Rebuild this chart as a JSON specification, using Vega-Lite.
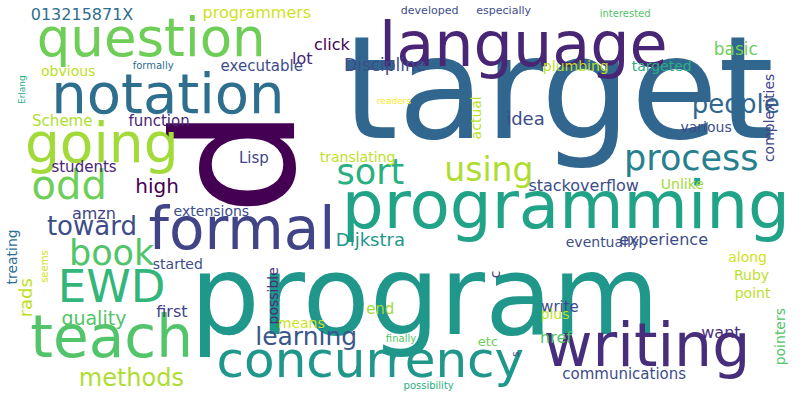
{
  "$schema": "https://vega.github.io/schema/vega-lite/v6.json",
  "width": 800,
  "height": 400,
  "autosize": {"type": "fit", "contains": "padding"},
  "background": "white",
  "view": {"stroke": null},
  "data": {
    "values": [
      {"word": "program", "x": 425, "y": 303, "size": 110, "angle": 0, "shade": 0.53},
      {"word": "target", "x": 560, "y": 92, "size": 142, "angle": 0, "shade": 0.33},
      {"word": "p", "x": 250, "y": 160, "size": 170, "angle": 90, "shade": 0.0},
      {"word": "language", "x": 525, "y": 42, "size": 62, "angle": 0, "shade": 0.1},
      {"word": "question", "x": 148, "y": 35, "size": 53, "angle": 0, "shade": 0.78},
      {"word": "notation", "x": 165, "y": 93, "size": 56, "angle": 0, "shade": 0.36},
      {"word": "going", "x": 98, "y": 143, "size": 55, "angle": 0, "shade": 0.86},
      {"word": "programming", "x": 568, "y": 208, "size": 66, "angle": 0, "shade": 0.58},
      {"word": "formal", "x": 240, "y": 232, "size": 58, "angle": 0, "shade": 0.2},
      {"word": "process", "x": 695, "y": 157, "size": 35, "angle": 0, "shade": 0.43},
      {"word": "people", "x": 740, "y": 102, "size": 26, "angle": 0, "shade": 0.33},
      {"word": "sort", "x": 370, "y": 172, "size": 35, "angle": 0, "shade": 0.63},
      {"word": "using", "x": 490, "y": 170, "size": 33, "angle": 0, "shade": 0.88},
      {"word": "odd", "x": 65, "y": 186, "size": 40, "angle": 0, "shade": 0.78},
      {"word": "high", "x": 154, "y": 186, "size": 20, "angle": 0, "shade": 0.0},
      {"word": "toward", "x": 88, "y": 227, "size": 26, "angle": 0, "shade": 0.23},
      {"word": "book", "x": 108, "y": 255, "size": 35, "angle": 0, "shade": 0.73},
      {"word": "EWD", "x": 108, "y": 290, "size": 45, "angle": 0, "shade": 0.66},
      {"word": "teach", "x": 108, "y": 343, "size": 58, "angle": 0, "shade": 0.73},
      {"word": "writing", "x": 650, "y": 352, "size": 60, "angle": 0, "shade": 0.13},
      {"word": "concurrency", "x": 370, "y": 366, "size": 50, "angle": 0, "shade": 0.53},
      {"word": "learning", "x": 305, "y": 340, "size": 25, "angle": 0, "shade": 0.27},
      {"word": "methods", "x": 128, "y": 384, "size": 24, "angle": 0, "shade": 0.88},
      {"word": "quality", "x": 90, "y": 322, "size": 19, "angle": 0, "shade": 0.73},
      {"word": "rads", "x": 22, "y": 300, "size": 18, "angle": 270, "shade": 0.9},
      {"word": "treating", "x": 8, "y": 258, "size": 14, "angle": 270, "shade": 0.36},
      {"word": "seems", "x": 40, "y": 268, "size": 10, "angle": 270, "shade": 0.93},
      {"word": "amzn", "x": 90, "y": 214, "size": 16, "angle": 0, "shade": 0.2},
      {"word": "students", "x": 80, "y": 166, "size": 15, "angle": 0, "shade": 0.1},
      {"word": "Scheme", "x": 58, "y": 118, "size": 15, "angle": 0, "shade": 0.88},
      {"word": "function", "x": 156, "y": 118, "size": 15, "angle": 0, "shade": 0.1},
      {"word": "obvious", "x": 64, "y": 68, "size": 14, "angle": 0, "shade": 0.9},
      {"word": "formally", "x": 150, "y": 62, "size": 10, "angle": 0, "shade": 0.36},
      {"word": "Erlang", "x": 17, "y": 86, "size": 9, "angle": 270, "shade": 0.63},
      {"word": "013215871X", "x": 78, "y": 9, "size": 16, "angle": 0, "shade": 0.36},
      {"word": "programmers", "x": 255, "y": 7, "size": 16, "angle": 0, "shade": 0.93},
      {"word": "lot", "x": 301, "y": 55, "size": 16, "angle": 0, "shade": 0.1},
      {"word": "click", "x": 331, "y": 40, "size": 16, "angle": 0, "shade": 0.0},
      {"word": "executable", "x": 260, "y": 62, "size": 15, "angle": 0, "shade": 0.23},
      {"word": "Discipline", "x": 385, "y": 62, "size": 17, "angle": 0, "shade": 0.23},
      {"word": "plumbing", "x": 578, "y": 63, "size": 14, "angle": 0, "shade": 0.9},
      {"word": "targeted", "x": 665, "y": 63, "size": 14, "angle": 0, "shade": 0.63},
      {"word": "basic", "x": 740, "y": 45, "size": 17, "angle": 0, "shade": 0.78},
      {"word": "developed", "x": 430, "y": 5, "size": 11, "angle": 0, "shade": 0.23},
      {"word": "especially", "x": 505, "y": 5, "size": 11, "angle": 0, "shade": 0.23},
      {"word": "interested", "x": 628, "y": 8, "size": 10, "angle": 0, "shade": 0.73},
      {"word": "readers", "x": 394, "y": 98, "size": 9, "angle": 0, "shade": 1.0},
      {"word": "actual", "x": 478, "y": 115, "size": 14, "angle": 270, "shade": 0.9},
      {"word": "idea", "x": 527, "y": 117, "size": 18, "angle": 0, "shade": 0.23},
      {"word": "various", "x": 710, "y": 125, "size": 14, "angle": 0, "shade": 0.23},
      {"word": "complexities", "x": 775, "y": 115, "size": 14, "angle": 270, "shade": 0.2},
      {"word": "Lisp", "x": 252, "y": 156, "size": 15, "angle": 0, "shade": 0.2},
      {"word": "translating", "x": 357, "y": 156, "size": 14, "angle": 0, "shade": 0.9},
      {"word": "stackoverflow", "x": 586, "y": 185, "size": 16, "angle": 0, "shade": 0.23},
      {"word": "Unlike", "x": 686, "y": 184, "size": 14, "angle": 0, "shade": 0.86},
      {"word": "extensions", "x": 209, "y": 212, "size": 14, "angle": 0, "shade": 0.23},
      {"word": "started", "x": 175, "y": 266, "size": 14, "angle": 0, "shade": 0.23},
      {"word": "Dijkstra", "x": 370, "y": 242, "size": 18, "angle": 0, "shade": 0.53},
      {"word": "eventually", "x": 605, "y": 244, "size": 14, "angle": 0, "shade": 0.23},
      {"word": "experience", "x": 667, "y": 241, "size": 16, "angle": 0, "shade": 0.23},
      {"word": "along", "x": 752, "y": 259, "size": 14, "angle": 0, "shade": 0.93},
      {"word": "Ruby", "x": 756, "y": 278, "size": 14, "angle": 0, "shade": 0.9},
      {"word": "point", "x": 757, "y": 296, "size": 14, "angle": 0, "shade": 0.9},
      {"word": "pointers", "x": 786, "y": 340, "size": 14, "angle": 270, "shade": 0.73},
      {"word": "want", "x": 725, "y": 336, "size": 16, "angle": 0, "shade": 0.13},
      {"word": "possible", "x": 272, "y": 298, "size": 14, "angle": 270, "shade": 0.13},
      {"word": "means", "x": 300, "y": 327, "size": 14, "angle": 0, "shade": 0.93},
      {"word": "first", "x": 169, "y": 315, "size": 16, "angle": 0, "shade": 0.2},
      {"word": "end", "x": 380, "y": 312, "size": 15, "angle": 0, "shade": 0.86},
      {"word": "c", "x": 497, "y": 276, "size": 14, "angle": 270, "shade": 0.2},
      {"word": "write", "x": 562, "y": 310, "size": 15, "angle": 0, "shade": 0.23},
      {"word": "plus", "x": 557, "y": 318, "size": 14, "angle": 0, "shade": 0.9},
      {"word": "href", "x": 558, "y": 341, "size": 16, "angle": 0, "shade": 0.73},
      {"word": "etc", "x": 489, "y": 345, "size": 13, "angle": 0, "shade": 0.78},
      {"word": "finally", "x": 401, "y": 342, "size": 10, "angle": 0, "shade": 0.73},
      {"word": "s", "x": 517, "y": 358, "size": 10, "angle": 270, "shade": 0.23},
      {"word": "possibility", "x": 429, "y": 391, "size": 10, "angle": 0, "shade": 0.63},
      {"word": "communications", "x": 627, "y": 378, "size": 15, "angle": 0, "shade": 0.23}
    ]
  },
  "mark": {"type": "text", "font": "DejaVu Sans", "align": "center", "baseline": "middle"},
  "encoding": {
    "x": {"field": "x", "type": "quantitative", "scale": {"domain": [0, 800]}, "axis": null},
    "y": {"field": "y", "type": "quantitative", "scale": {"domain": [0, 400], "reverse": true}, "axis": null},
    "text": {"field": "word"},
    "size": {"field": "size", "type": "quantitative", "scale": null, "legend": null},
    "angle": {"field": "angle", "type": "quantitative", "scale": null, "legend": null},
    "color": {"field": "shade", "type": "quantitative", "scale": {"scheme": "viridis", "domain": [0, 1]}, "legend": null}
  },
  "config": {"axis": {"grid": false}}
}
